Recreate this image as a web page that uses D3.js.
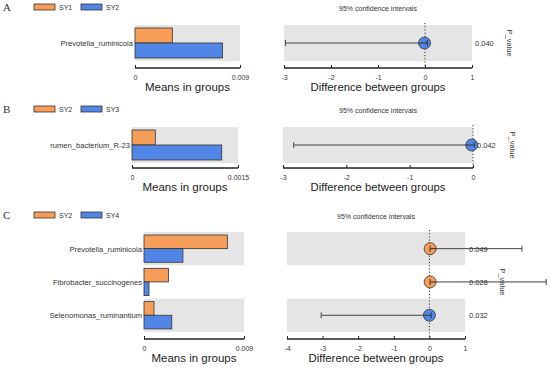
<!DOCTYPE html>
<html>
<head>
<meta charset="utf-8">
<script src="https://cdn.jsdelivr.net/npm/d3@7"></script>
<style>
  body { margin: 0; background: #fff; }
  text { font-family: "Liberation Sans", Arial, sans-serif; fill: #333; }
</style>
</head>
<body>
<div class="chart"></div>
<script>
//// data

// panel A
const groupsA = ['SY1', 'SY2'];
const taxaA = ['Prevotella_ruminicola'];
const meansA1 = [0.0032];
const meansA2 = [0.0075];
const diffA = [-0.01];
const lowA = [-2.97];
const highA = [0.05];
const pA = ['0.040'];
const meanTicksA = [0, 0.009];
const diffTicksA = [-3, -2, -1, 0, 1];

// panel B
const groupsB = ['SY2', 'SY3'];
const taxaB = ['rumen_bacterium_R-23'];
const meansB1 = [0.00033];
const meansB2 = [0.00127];
const diffB = [-0.02];
const lowB = [-2.83];
const highB = [0.02];
const pB = ['0.042'];
const meanTicksB = [0, 0.0015];
const diffTicksB = [-3, -2, -1, 0];

// panel C
const groupsC = ['SY2', 'SY4'];
const taxaC = ['Prevotella_ruminicola', 'Fibrobacter_succinogenes', 'Selenomonas_ruminantium'];
const meansC1 = [0.0075, 0.0022, 0.0009];
const meansC2 = [0.0035, 0.00045, 0.0025];
const diffC = [0.02, 0.02, 0.0];
const lowC = [0.02, 0.02, -3.04];
const highC = [2.6, 3.28, 0.05];
const pC = ['0.049', '0.028', '0.032'];
const meanTicksC = [0, 0.009];
const diffTicksC = [-4, -3, -2, -1, 0, 1];

const orange = '#f59d59';
const blue = '#5185e6';
const stroke = '#333';

//// layout for each panel (pixel boxes only)
const panels = [
  {letter: 'A', groups: groupsA, taxa: taxaA, m1: meansA1, m2: meansA2, diff: diffA, low: lowA, high: highA, p: pA,
   mTicks: meanTicksA, dTicks: diffTicksA, top: 7, bandTop: 25, rowH: 36, axisY: 68,
   left: [135, 240], right: [284, 472], pX: 475, pvX: 507},
  {letter: 'B', groups: groupsB, taxa: taxaB, m1: meansB1, m2: meansB2, diff: diffB, low: lowB, high: highB, p: pB,
   mTicks: meanTicksB, dTicks: diffTicksB, top: 109, bandTop: 127, rowH: 36, axisY: 168,
   left: [132, 238], right: [283, 473], pX: 477, pvX: 510},
  {letter: 'C', groups: groupsC, taxa: taxaC, m1: meansC1, m2: meansC2, diff: diffC, low: lowC, high: highC, p: pC,
   mTicks: meanTicksC, dTicks: diffTicksC, top: 215, bandTop: 232, rowH: 33.3, axisY: 339,
   left: [144, 244], right: [287, 465], pX: 469, pvX: 500}
];

const svg = d3.select('.chart').append('svg')
  .attr('width', 550)
  .attr('height', 368);

panels.forEach(drawPanel);

function drawPanel(cfg) {
  const g = svg.append('g');
  const n = cfg.taxa.length;

  const xMean = d3.scaleLinear().domain(d3.extent(cfg.mTicks)).range(cfg.left);
  const xDiff = d3.scaleLinear().domain(d3.extent(cfg.dTicks)).range(cfg.right);
  const y = d3.scaleBand().domain(cfg.taxa).range([cfg.bandTop, cfg.bandTop + cfg.rowH * n]);

  // panel letter
  g.append('text')
    .attr('x', 3).attr('y', cfg.top + 4)
    .style('font-family', '"Liberation Serif", serif')
    .style('font-size', '11px')
    .text(cfg.letter);

  // legend
  const leg = g.append('g').attr('transform', `translate(34, ${cfg.top - 3})`);
  cfg.groups.forEach((name, i) => {
    leg.append('rect')
      .attr('x', i * 47).attr('y', 0)
      .attr('width', 21).attr('height', 6)
      .attr('fill', i === 0 ? orange : blue)
      .attr('stroke', stroke).attr('stroke-width', 0.8);
    leg.append('text')
      .attr('x', i * 47 + 25).attr('y', 6)
      .style('font-size', '7px')
      .text(name);
  });

  // background bands (every other row gray)
  cfg.taxa.forEach((t, i) => {
    if (i % 2 === 1) return;
    g.append('rect')
      .attr('x', cfg.left[0]).attr('y', y(t))
      .attr('width', cfg.left[1] - cfg.left[0]).attr('height', y.bandwidth())
      .attr('fill', '#e5e5e5');
    g.append('rect')
      .attr('x', cfg.right[0]).attr('y', y(t))
      .attr('width', cfg.right[1] - cfg.right[0]).attr('height', y.bandwidth())
      .attr('fill', '#e5e5e5');
  });

  // bars
  const barH = (y.bandwidth() - 6) / 2;
  cfg.taxa.forEach((t, i) => {
    g.append('rect')
      .attr('x', xMean(0)).attr('y', y(t) + 3)
      .attr('width', xMean(cfg.m1[i]) - xMean(0)).attr('height', barH)
      .attr('fill', orange).attr('stroke', stroke).attr('stroke-width', 0.8);
    g.append('rect')
      .attr('x', xMean(0)).attr('y', y(t) + 3 + barH)
      .attr('width', xMean(cfg.m2[i]) - xMean(0)).attr('height', barH)
      .attr('fill', blue).attr('stroke', stroke).attr('stroke-width', 0.8);
    g.append('text')
      .attr('x', cfg.left[0] - 2).attr('y', y(t) + y.bandwidth() / 2 + 3)
      .attr('text-anchor', 'end')
      .style('font-size', '7.6px')
      .text(t);
  });

  // axes
  const axMean = d3.axisBottom(xMean).tickValues(cfg.mTicks).tickSize(-3).tickPadding(7)
    .tickFormat(d => d === 0 ? '0' : String(d));
  const axDiff = d3.axisBottom(xDiff).tickValues(cfg.dTicks).tickSize(-3).tickPadding(7)
    .tickFormat(d => String(d));
  [axMean, axDiff].forEach(ax => {
    const a = g.append('g').attr('transform', `translate(0, ${cfg.axisY})`).call(ax);
    a.selectAll('.tick line').attr('stroke', '#222').attr('stroke-width', 1);
    a.selectAll('.tick text').style('font-size', '7px').attr('fill', '#333')
      .style('font-family', '"Liberation Sans", Arial, sans-serif');
  });
  g.selectAll('.domain').remove();
  // axis baselines drawn by hand (no outer ticks going down)
  g.append('line').attr('x1', cfg.left[0]).attr('x2', cfg.left[1])
    .attr('y1', cfg.axisY).attr('y2', cfg.axisY).attr('stroke', '#222').attr('stroke-width', 1.5);
  g.append('line').attr('x1', cfg.right[0]).attr('x2', cfg.right[1])
    .attr('y1', cfg.axisY).attr('y2', cfg.axisY).attr('stroke', '#222').attr('stroke-width', 1.5);

  // axis titles
  g.append('text')
    .attr('x', (cfg.left[0] + cfg.left[1]) / 2).attr('y', cfg.axisY + 23)
    .attr('text-anchor', 'middle').style('font-size', '11.5px').style('fill', '#222')
    .text('Means in groups');
  g.append('text')
    .attr('x', (cfg.right[0] + cfg.right[1]) / 2).attr('y', cfg.axisY + 23)
    .attr('text-anchor', 'middle').style('font-size', '11.3px').style('fill', '#222')
    .text('Difference between groups');
  g.append('text')
    .attr('x', (cfg.right[0] + cfg.right[1]) / 2).attr('y', cfg.top + 4)
    .attr('text-anchor', 'middle').style('font-size', '7px')
    .text('95% confidence intervals');

  // zero line
  g.append('line')
    .attr('x1', xDiff(0)).attr('x2', xDiff(0))
    .attr('y1', cfg.bandTop - 2).attr('y2', cfg.axisY)
    .attr('stroke', '#333').attr('stroke-width', 1).attr('stroke-dasharray', '1.2,2');

  // error bars and points
  cfg.taxa.forEach((t, i) => {
    const cy = y(t) + y.bandwidth() / 2;
    const col = cfg.diff[i] >= 0 && cfg.high[i] > 0.5 ? orange : blue;
    g.append('line')
      .attr('x1', xDiff(cfg.low[i])).attr('x2', xDiff(cfg.high[i]))
      .attr('y1', cy).attr('y2', cy)
      .attr('stroke', '#444').attr('stroke-width', 1);
    [cfg.low[i], cfg.high[i]].forEach(v => {
      g.append('line')
        .attr('x1', xDiff(v)).attr('x2', xDiff(v))
        .attr('y1', cy - 3).attr('y2', cy + 3)
        .attr('stroke', '#444').attr('stroke-width', 1);
    });
    g.append('circle')
      .attr('cx', xDiff(cfg.diff[i])).attr('cy', cy).attr('r', 6)
      .attr('fill', col).attr('stroke', stroke).attr('stroke-width', 0.8);
    // cap inside the dot
    const inner = Math.abs(cfg.low[i] - cfg.diff[i]) < Math.abs(cfg.high[i] - cfg.diff[i]) ? cfg.low[i] : cfg.high[i];
    const far = inner === cfg.low[i] ? cfg.high[i] : cfg.low[i];
    g.append('line')
      .attr('x1', xDiff(inner)).attr('x2', xDiff(inner))
      .attr('y1', cy - 3).attr('y2', cy + 3)
      .attr('stroke', '#333').attr('stroke-width', 1);
    g.append('line')
      .attr('x1', xDiff(inner)).attr('x2', xDiff(cfg.diff[i]) + (far > inner ? 6 : -6))
      .attr('y1', cy).attr('y2', cy)
      .attr('stroke', '#333').attr('stroke-width', 1);

    g.append('text')
      .attr('x', cfg.pX).attr('y', cy + 3)
      .style('font-size', '7.5px')
      .text(cfg.p[i]);
  });

  // P_value label, rotated
  const midY = cfg.bandTop + cfg.rowH * n / 2;
  g.append('text')
    .attr('transform', `translate(${cfg.pvX}, ${midY}) rotate(90)`)
    .attr('text-anchor', 'middle')
    .style('font-size', '7.5px')
    .text('P_value');
}
</script>
</body>
</html>
